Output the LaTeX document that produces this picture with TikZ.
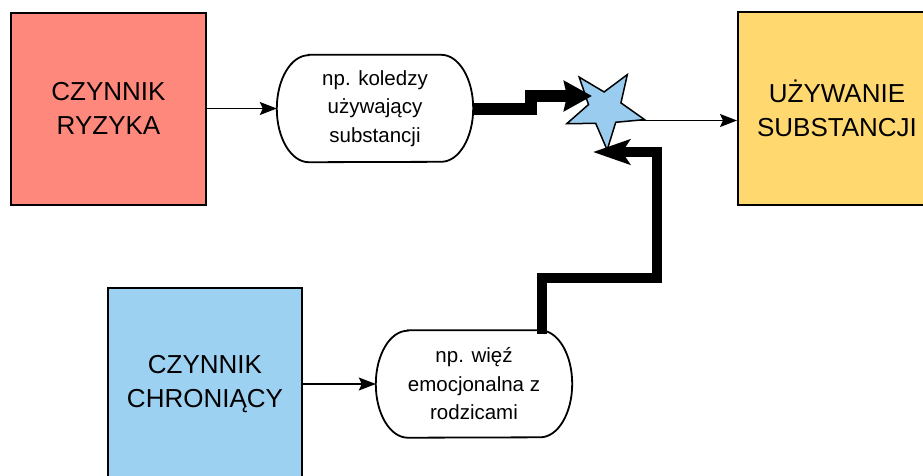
\documentclass[tikz,border=0pt]{standalone}
\usepackage{fontspec}
\setmainfont{Liberation Sans}
\usetikzlibrary{arrows.meta,shapes.geometric}
\definecolor{riskred}{HTML}{FF887C}
\definecolor{useyellow}{HTML}{FFD970}
\definecolor{protblue}{HTML}{9DD1F2}
\definecolor{starblue}{HTML}{99CCEE}
\newcommand\pilloutline[1]{%
  \draw[line width=1.8pt]
    ([xshift=32pt]#1.north west) -- ([xshift=-32pt]#1.north east)
    arc[start angle=-90,end angle=90,x radius=32,y radius=53.5]
    -- ([xshift=32pt]#1.south west)
    arc[start angle=90,end angle=270,x radius=32,y radius=53.5] -- cycle;}
\begin{document}
\begin{tikzpicture}[x=1pt,y=-1pt,line join=miter,
  box/.style={draw, line width=2pt, minimum width=195pt, minimum height=192pt,
    inner sep=0pt, align=center, font=\fontsize{26}{34}\selectfont},
  pill/.style={minimum width=196pt, minimum height=107pt, inner sep=0pt,
    align=center, font=\fontsize{20.5}{28.5}\selectfont},
  thinarrow/.style={line width=1.3pt, -{Stealth[length=17pt,width=13pt,inset=3pt]}},
  thickA/.style={line width=12pt, -{Stealth[length=28pt,width=30pt,inset=3pt]}},
  thickB/.style={line width=10pt, -{Stealth[length=37pt,width=25pt,inset=8pt]}},
  starshape/.style={star, star points=5, star point ratio=2.4, minimum size=82pt,
    inner sep=0pt, shape border rotate=183, draw, line width=1.5pt, fill=starblue}]
\useasboundingbox (0,0) rectangle (923,475);
\clip (0,0) rectangle (923,475);

\node[box, fill=riskred] (risk) at (108.5,108.5) {CZYNNIK\\RYZYKA};
\node[box, fill=protblue, minimum width=194pt] (prot) at (205,384) {CZYNNIK\\CHRONIĄCY};
\node[box, fill=useyellow, minimum width=198pt, minimum height=193pt] (use) at (837,108.5) {UŻYWANIE\\SUBSTANCJI};

\node[pill] (p1) at (375,108.5) {np. koledzy\\używający\\substancji};
\node[pill] (p2) at (474,384) {np. więź\\emocjonalna z\\rodzicami};
\pilloutline{p1}
\pilloutline{p2}

\draw[thinarrow] (risk.east) -- (p1.west);
\draw[thinarrow] (prot.east) -- (p2.west);

\coordinate (s0) at (615,120.5);
\draw[thinarrow] (s0) -- (s0 -| use.west);

\node[starshape] (st) at (605,109) {};

\coordinate (a1) at (531,108.5);
\coordinate (a2) at (531,96);
\coordinate (a3) at (592,96);
\draw[thickA] (p1.east) -- (a1) -- (a2) -- (a3);

\coordinate (b0) at (542,334);
\coordinate (b1) at (542,278);
\coordinate (b2) at (657,278);
\coordinate (b3) at (657,152);
\coordinate (b4) at (593,152);
\draw[thickB] (b0) -- (b1) -- (b2) -- (b3) -- (b4);
\end{tikzpicture}
\end{document}
